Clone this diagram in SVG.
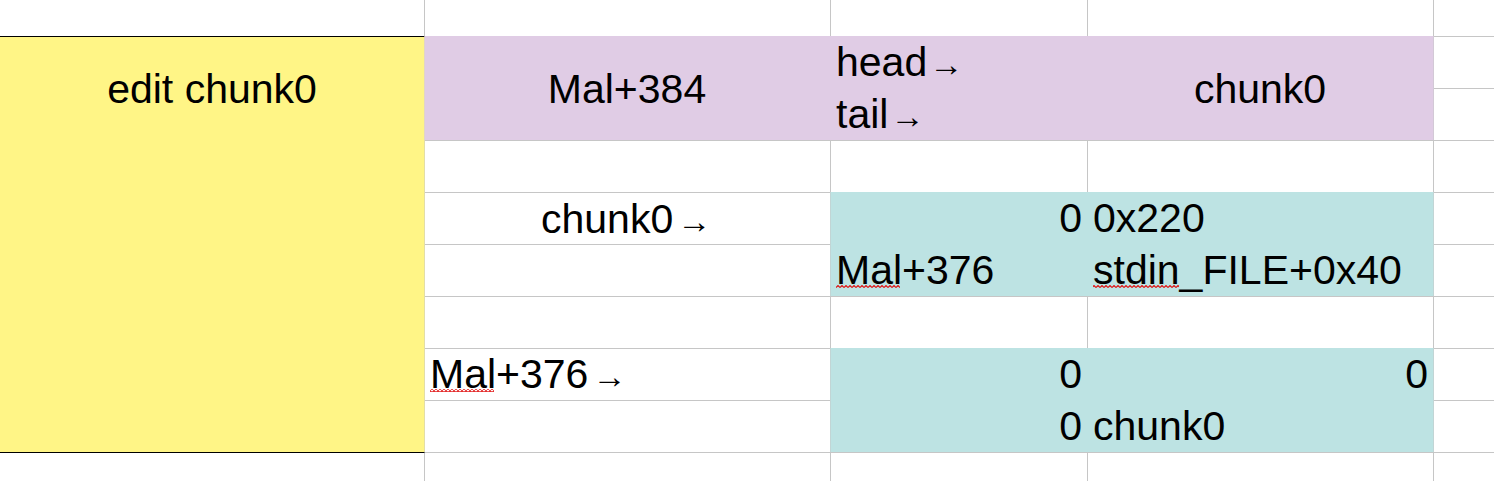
<svg xmlns="http://www.w3.org/2000/svg" width="1494" height="481" viewBox="0 0 1494 481">
<style>
.t{font-family:"Liberation Sans",Arial,sans-serif;font-size:41px;fill:#000}
.m{text-anchor:middle}
.e{text-anchor:end}
.a{font-size:34px}
.g{stroke:#c6c6c6;stroke-width:1;fill:none}
</style>
<defs>
<pattern id="sq" x="0" y="0" width="4" height="3" patternUnits="userSpaceOnUse">
<path d="M0,2.5 L2,0.5 L4,2.5" stroke="#e01010" stroke-width="1.1" fill="none"/>
</pattern>
</defs>
<rect width="1494" height="481" fill="#fff"/>
<g id="grid" class="g">
<path d="M424.5,0V481M830.5,0V481M1087.5,0V481M1433.5,0V481"/>
<path d="M424,36.5H1494M424,88.5H1494M424,140.5H1494M424,192.5H1494M424,244.5H1494M424,296.5H1494M424,348.5H1494M424,400.5H1494M424,452.5H1494"/>
</g>
<g id="edit">
<rect x="0" y="36" width="424.5" height="416" fill="#fff586"/>
<path d="M0,36.5H424.5M0,452.5H424.5" stroke="#000" stroke-width="1.2"/>
<text class="t m" x="212" y="103">edit chunk0</text>
</g>
<g id="queue">
<rect x="424.5" y="36" width="1009" height="104" fill="#e0cce5"/>
<text class="t m" x="627" y="103">Mal+384</text>
<text class="t" x="836" y="76">head<tspan class="a" dx="2">→</tspan></text>
<text class="t" x="836" y="128">tail<tspan class="a" dx="2">→</tspan></text>
<text class="t m" x="1260" y="103">chunk0</text>
</g>
<g id="chunk0-label">
<text class="t" x="541" y="233">chunk0<tspan class="a" dx="4">→</tspan></text>
</g>
<g id="chunk0">
<rect x="830.5" y="192" width="603" height="104" fill="#bde3e3"/>
<text class="t e" x="1082" y="232">0</text>
<text class="t" x="1093" y="232">0x220</text>
<text class="t" x="836" y="284">Mal+376</text>
<text class="t" x="1093" y="284">stdin_FILE+0x40</text>
<rect x="836" y="285" width="64" height="3" fill="url(#sq)"/>
<rect x="1093" y="285" width="86" height="3" fill="url(#sq)"/>
</g>
<g id="mal376-label">
<text class="t" x="430" y="388">Mal+376<tspan class="a" dx="4">→</tspan></text>
<rect x="430" y="389" width="64" height="3" fill="url(#sq)"/>
</g>
<g id="mal376">
<rect x="830.5" y="348" width="603" height="104" fill="#bde3e3"/>
<text class="t e" x="1082" y="388">0</text>
<text class="t e" x="1428" y="388">0</text>
<text class="t e" x="1082" y="440">0</text>
<text class="t" x="1093" y="440">chunk0</text>
</g>
</svg>
